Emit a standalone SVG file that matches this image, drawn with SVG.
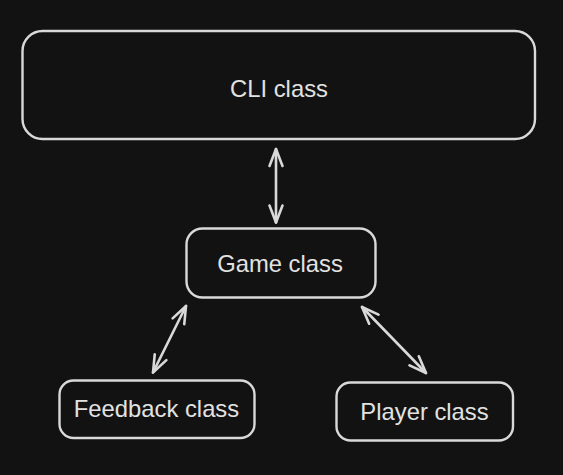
<svg xmlns="http://www.w3.org/2000/svg" width="563" height="475" viewBox="0 0 563 475">
<style>
.box{fill:#121212;stroke:#d9d9d9;stroke-width:2.4}
.lbl{font-family:"Liberation Sans",Arial,sans-serif;font-size:23.8px;fill:#e2e2e2;text-anchor:middle}
.conn{stroke:#d9d9d9;stroke-width:2.6;fill:none;stroke-linecap:round}
</style>
<defs>
<marker id="ah" markerUnits="userSpaceOnUse" markerWidth="24" markerHeight="24" viewBox="-20 -12 24 24" refX="0" refY="0" orient="auto-start-reverse" overflow="visible">
<path d="M -17 -6.5 L 0 0 L -17 6.5" fill="none" stroke="#d9d9d9" stroke-width="2.6" stroke-linecap="round" stroke-linejoin="round"/>
</marker>
</defs>
<rect width="563" height="475" fill="#121212"/>
<g id="cli">
<rect class="box" x="22.5" y="31" width="512.5" height="108" rx="20"/>
<text class="lbl" x="279" y="97">CLI class</text>
</g>
<g id="game">
<rect class="box" x="186.5" y="228.5" width="189" height="69" rx="16"/>
<text class="lbl" x="280" y="272">Game class</text>
</g>
<g id="feedback">
<rect class="box" x="59.5" y="380.5" width="195" height="57.5" rx="14"/>
<text class="lbl" x="156.5" y="417">Feedback class</text>
</g>
<g id="player">
<rect class="box" x="336.5" y="382.5" width="176.5" height="58" rx="14"/>
<text class="lbl" x="424.5" y="420">Player class</text>
</g>
<g id="connectors">
<line class="conn" x1="276" y1="149" x2="276" y2="222.5" marker-start="url(#ah)" marker-end="url(#ah)"/>
<line class="conn" x1="186" y1="306" x2="153" y2="372.5" marker-start="url(#ah)" marker-end="url(#ah)"/>
<line class="conn" x1="362" y1="307" x2="426" y2="373" marker-start="url(#ah)" marker-end="url(#ah)"/>
</g>
</svg>
